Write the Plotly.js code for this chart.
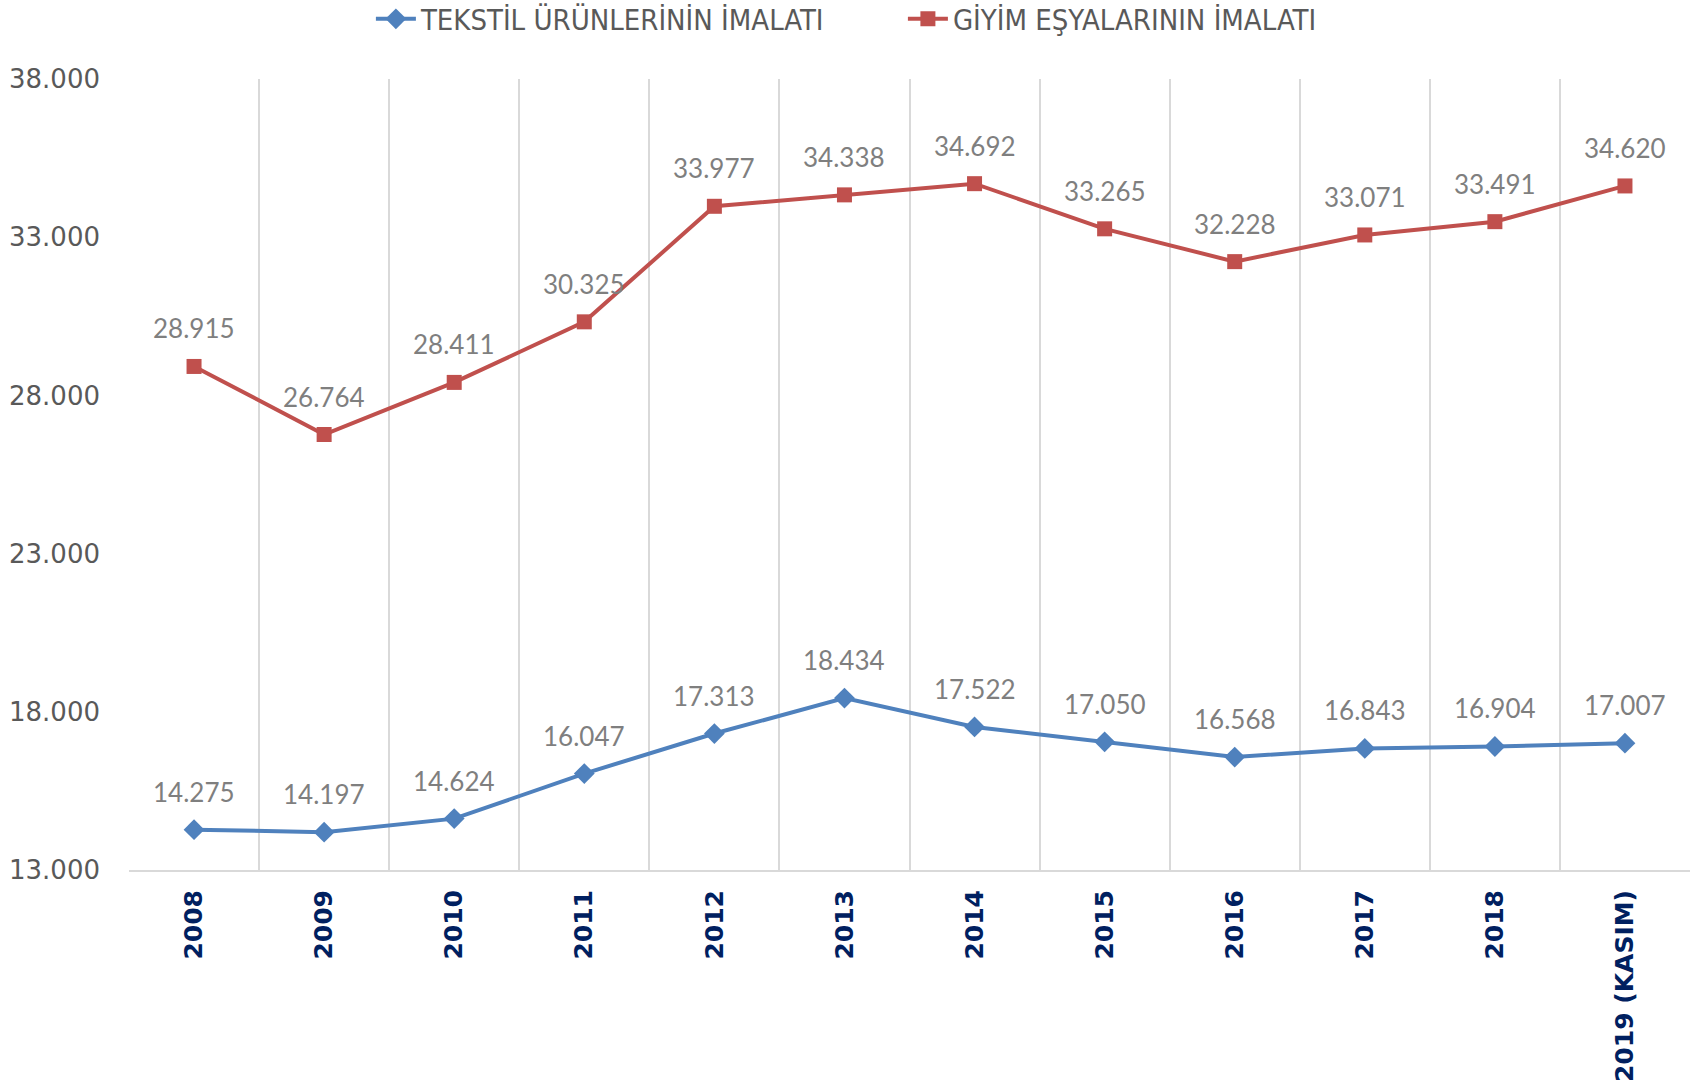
<!DOCTYPE html>
<html>
<head>
<meta charset="utf-8">
<script src="https://cdn.plot.ly/plotly-3.0.1.min.js"></script>
<style>html,body{margin:0;padding:0;background:#fff;}#chart{width:1694px;height:1086px;}</style>
</head>
<body>
<div id="chart"></div>
<script>
const categories = ['2008','2009','2010','2011','2012','2013','2014','2015','2016','2017','2018','2019 (KASIM)'];
const tekstilName = 'TEKSTİL ÜRÜNLERİNİN İMALATI';
const giyimName = 'GİYİM EŞYALARININ İMALATI';
const tekstil = [14275, 14197, 14624, 16047, 17313, 18434, 17522, 17050, 16568, 16843, 16904, 17007];
const giyim = [28915, 26764, 28411, 30325, 33977, 34338, 34692, 33265, 32228, 33071, 33491, 34620];
const yTicks = [13000, 18000, 23000, 28000, 33000, 38000];

function fmt(v){ return String(v).replace(/\B(?=(\d{3})+(?!\d))/g, '.'); }

const traces = [
  {x: categories, y: tekstil, name: tekstilName, type: 'scatter', mode: 'lines+markers',
   line: {color: '#4F81BD', width: 4}, marker: {symbol: 'diamond', size: 16, color: '#4F81BD'}},
  {x: categories, y: giyim, name: giyimName, type: 'scatter', mode: 'lines+markers',
   line: {color: '#C0504D', width: 4}, marker: {symbol: 'square', size: 15, color: '#C0504D'}}
];

const annotations = [];
[tekstil, giyim].forEach(series => {
  series.forEach((v, i) => {
    annotations.push({x: i, y: v, xref: 'x', yref: 'y', text: fmt(v), showarrow: false,
      yshift: 38, font: {family: 'Lato, "Open Sans", sans-serif', size: 26, color: '#7F7F7F'}});
  });
});

const layout = {
  width: 1694, height: 1086,
  margin: {l: 129, r: 4, t: 79, b: 216},
  paper_bgcolor: '#ffffff', plot_bgcolor: '#ffffff',
  separators: ',.',
  showlegend: true,
  legend: {orientation: 'h', xref: 'container', yref: 'container', x: 0.533, xanchor: 'center', y: 0.9825, yanchor: 'middle',
    font: {family: '"Liberation Sans Narrow", "DejaVu Sans Condensed", sans-serif', size: 29, color: '#595959'},
    itemwidth: 40, entrywidth: 477},
  xaxis: {type: 'category', range: [-0.5, 11.5], tickson: 'boundaries', showgrid: true,
    gridcolor: '#D9D9D9', gridwidth: 2, showline: true, linecolor: '#D9D9D9', linewidth: 2,
    ticks: '', tickangle: -90, ticklabelstandoff: 8, zeroline: false,
    tickfont: {family: '"DejaVu Sans", Verdana, sans-serif', size: 25, color: '#002060', weight: 'bold'}},
  yaxis: {range: [13000, 38000], tickvals: yTicks, tickformat: ',d', showgrid: false, zeroline: false,
    showline: false, ticks: '', ticklabelstandoff: 28,
    tickfont: {family: '"DejaVu Sans", sans-serif', size: 26, color: '#595959'}},
  annotations: annotations
};

Plotly.newPlot('chart', traces, layout, {displayModeBar: false, staticPlot: true});
</script>
</body>
</html>
